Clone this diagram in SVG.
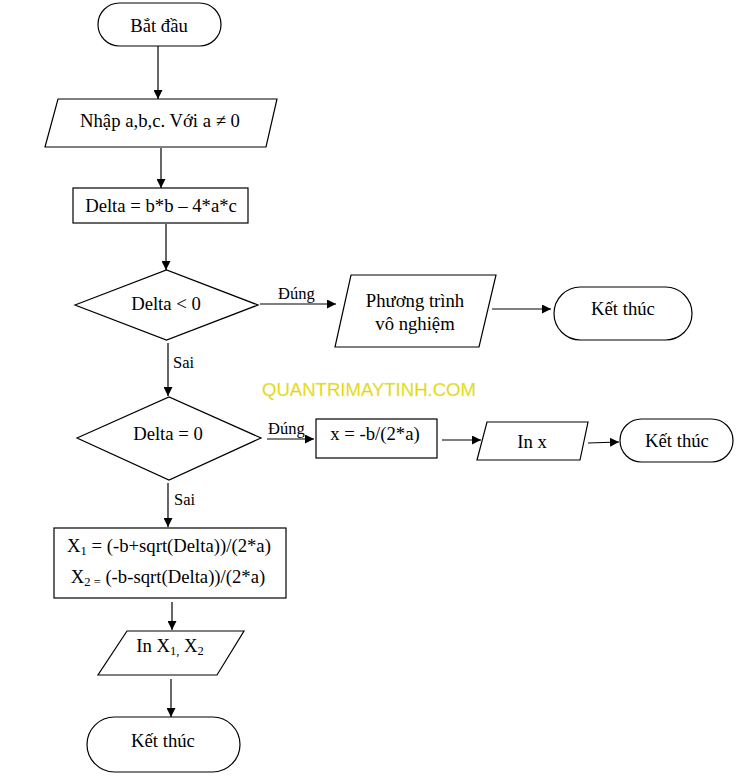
<svg xmlns="http://www.w3.org/2000/svg" width="742" height="778" viewBox="0 0 742 778">
<defs>
<marker id="ah" viewBox="0 0 10 10" refX="10" refY="5" markerWidth="9" markerHeight="9" markerUnits="userSpaceOnUse" orient="auto">
<path d="M0,0 L10,5 L0,10 z" fill="#000"/>
</marker>
</defs>
<style>
.s{fill:#fff;stroke:#000;stroke-width:1.2}
.t{font-family:"Liberation Serif","Times New Roman",serif;font-size:18.7px;fill:#000;text-anchor:middle}
.l{font-family:"Liberation Serif","Times New Roman",serif;font-size:16.5px;fill:#000}
.c{stroke:#000;stroke-width:1.2;fill:none;marker-end:url(#ah)}
.sub{font-size:12.5px}
.wm{font-family:"Liberation Sans",Arial,sans-serif;font-size:19px;fill:#dcd600;stroke:#f4f0a0;stroke-width:0.3}
</style>
<rect width="742" height="778" fill="#fff"/>
<g id="connectors">
<line class="c" x1="158" y1="46" x2="158" y2="99"/>
<line class="c" x1="161" y1="148" x2="161" y2="188"/>
<line class="c" x1="166" y1="224" x2="166" y2="270"/>
<line class="c" x1="260" y1="304" x2="336" y2="304"/>
<line class="c" x1="492" y1="309" x2="551" y2="309"/>
<line class="c" x1="168" y1="343" x2="168" y2="396"/>
<line class="c" x1="267" y1="439" x2="314" y2="439"/>
<line class="c" x1="442" y1="440" x2="481" y2="440"/>
<line class="c" x1="588" y1="443" x2="619" y2="442"/>
<line class="c" x1="168" y1="483" x2="168" y2="527"/>
<line class="c" x1="172" y1="602" x2="172" y2="630"/>
<line class="c" x1="171" y1="679" x2="171" y2="717"/>
<text class="l" x="278" y="299">Đúng</text>
<text class="l" x="173" y="368">Sai</text>
<text class="l" x="268" y="434">Đúng</text>
<text class="l" x="174" y="505">Sai</text>
</g>
<g id="start">
<rect class="s" x="98" y="3" width="123" height="43" rx="21.5"/>
<text class="t" x="159" y="32">Bắt đầu</text>
</g>
<g id="input">
<polygon class="s" points="58,99 277,99 266,147 45,147"/>
<text class="t" x="160" y="127">Nhập a,b,c. Với a ≠ 0</text>
</g>
<g id="delta">
<rect class="s" x="73" y="188" width="175" height="35"/>
<text class="t" x="161" y="212">Delta = b*b – 4*a*c</text>
</g>
<g id="dec1">
<polygon class="s" points="75,305 166.5,270 258,305 166.5,340"/>
<text class="t" x="166" y="310">Delta &lt; 0</text>
</g>
<g id="novalue">
<polygon class="s" points="351,275 496,275 479,347 335,347"/>
<text class="t" x="415" y="307">Phương trình</text>
<text class="t" x="415" y="330">vô nghiệm</text>
</g>
<g id="end1">
<rect class="s" x="554" y="287" width="138" height="53" rx="26.5"/>
<text class="t" x="623" y="315">Kết thúc</text>
</g>
<text class="wm" x="262" y="396" textLength="214" lengthAdjust="spacingAndGlyphs">QUANTRIMAYTINH.COM</text>
<g id="dec2">
<polygon class="s" points="77,438 169,397 261,438 169,480"/>
<text class="t" x="168" y="440">Delta = 0</text>
</g>
<g id="xcalc">
<rect class="s" x="316" y="419" width="121" height="39"/>
<text class="t" x="375" y="440">x = -b/(2*a)</text>
</g>
<g id="printx">
<polygon class="s" points="487,422 588,422 580,460 477,460"/>
<text class="t" x="532" y="448">In x</text>
</g>
<g id="end2">
<rect class="s" x="620" y="419" width="113" height="43" rx="21.5"/>
<text class="t" x="677" y="447">Kết thúc</text>
</g>
<g id="roots">
<rect class="s" x="54" y="528" width="232" height="70"/>
<text class="t" x="169" y="552">X<tspan class="sub" dy="3">1</tspan><tspan dy="-3"> = (-b+sqrt(Delta))/(2*a)</tspan></text>
<text class="t" x="168" y="583">X<tspan class="sub" dy="3">2 =</tspan><tspan dy="-3"> (-b-sqrt(Delta))/(2*a)</tspan></text>
</g>
<g id="printroots">
<polygon class="s" points="127,631 244,631 217,675 98,675"/>
<text class="t" x="170" y="652">In X<tspan class="sub" dy="3">1,</tspan><tspan dy="-3"> X</tspan><tspan class="sub" dy="3">2</tspan></text>
</g>
<g id="end3">
<rect class="s" x="87" y="717" width="153" height="55" rx="27.5"/>
<text class="t" x="163" y="747">Kết thúc</text>
</g>
</svg>
